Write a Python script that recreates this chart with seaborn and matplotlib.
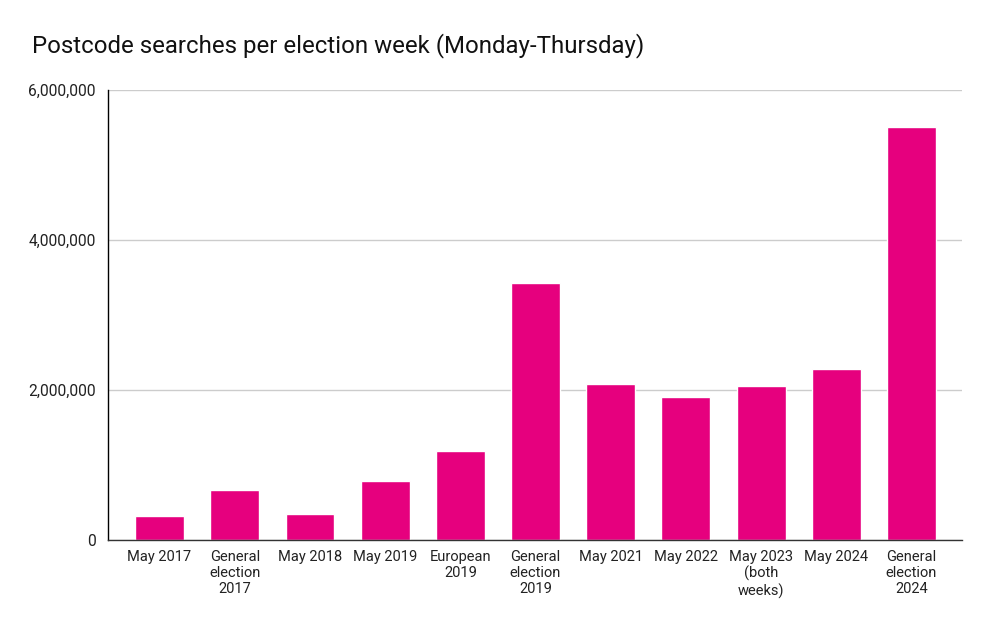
import matplotlib
matplotlib.use("Agg")
import matplotlib.pyplot as plt
import seaborn as sns
import pandas as pd
from matplotlib.ticker import FuncFormatter

categories = [
    "May 2017", "General\nelection\n2017", "May 2018", "May 2019", "European\n2019",
    "General\nelection\n2019", "May 2021", "May 2022", "May 2023\n(both\nweeks)",
    "May 2024", "General\nelection\n2024",
]
searches = [
    320000, 665000, 345000, 785000, 1185000,
    3425000, 2080000, 1905000, 2055000,
    2280000, 5505000,
]

df = pd.DataFrame({"week": categories, "searches": searches})

sns.set_style("white")
plt.rcParams["font.family"] = ["Roboto", "DejaVu Sans"]

fig = plt.figure(figsize=(9.94, 6.29), dpi=100)
ax = fig.add_axes([0.1087, 0.1415, 0.859, 0.7154])

sns.barplot(data=df, x="week", y="searches", color="#E6007E", width=0.65,
            saturation=1, ax=ax)

ax.set_ylim(0, 6000000)
ax.set_yticks([0, 2000000, 4000000, 6000000])
ax.yaxis.set_major_formatter(FuncFormatter(lambda v, p: f"{int(v):,}"))
ax.set_xlim(-0.685, len(categories) - 1 + 0.67)
ax.grid(axis="y", color="#cccccc", linewidth=1)
ax.set_axisbelow(True)

for s in ["top", "right"]:
    ax.spines[s].set_visible(False)
ax.spines["left"].set_color("#000000")
ax.spines["bottom"].set_color("#333333")
ax.spines["left"].set_linewidth(1)
ax.spines["bottom"].set_linewidth(1)

ax.tick_params(axis="both", length=0, colors="#222222")
ax.tick_params(axis="x", labelsize=10.5, pad=7)
ax.tick_params(axis="y", labelsize=11.2, pad=9)
for lbl in ax.get_xticklabels():
    lbl.set_linespacing(1.2)
ax.set_xlabel("")
ax.set_ylabel("")

fig.text(0.032, 0.928, "Postcode searches per election week (Monday-Thursday)",
         fontsize=17.3, color="#111111", ha="left", va="center")

fig.savefig("out.png", dpi=100)
